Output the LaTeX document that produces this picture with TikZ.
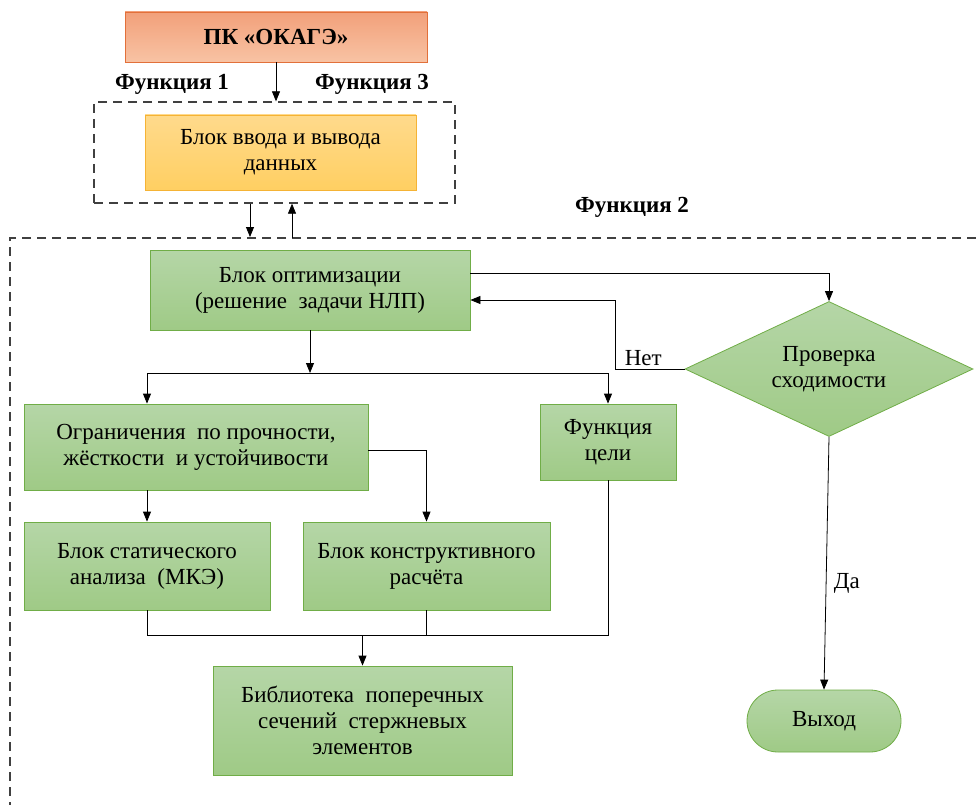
\documentclass[tikz,border=0pt]{standalone}
\usepackage{fontspec}
\setmainfont{Liberation Serif}
\usetikzlibrary{positioning, arrows.meta, shapes.geometric, shapes.misc}
\definecolor{grfill}{HTML}{B5D6A7}
\definecolor{grfillb}{HTML}{9FCA86}
\definecolor{grline}{HTML}{70AD47}
\definecolor{orfill}{HTML}{F2A07A}
\definecolor{orfillb}{HTML}{F8C3A4}
\definecolor{orline}{HTML}{E2703A}
\definecolor{yefill}{HTML}{FFDA8C}
\definecolor{yefillb}{HTML}{FFCF62}
\definecolor{yeline}{HTML}{F5B335}
\definecolor{dashgray}{HTML}{404040}

\begin{document}
\begin{tikzpicture}[x=1pt, y=-1pt, font=\fontsize{23}{26}\selectfont,
  >={Triangle[length=10pt,width=8pt]}, thick,
  blok/.style={draw=grline, top color=grfill, bottom color=grfillb,
    align=center, inner sep=2pt},
  pkbox/.style={draw=orline, top color=orfill, bottom color=orfillb,
    minimum width=302, minimum height=50},
  iobox/.style={draw=yeline, top color=yefill, bottom color=yefillb,
    align=center, minimum width=271, minimum height=75},
  dashbox/.style={draw=dashgray, line width=1.3pt, dash pattern=on 9pt off 6pt},
  flabel/.style={font=\fontsize{23}{26}\selectfont\bfseries}]
  \useasboundingbox (0,0) rectangle (976,805);

  % top part
  \node[pkbox] (pk) at (276,37) {\textbf{ПК «ОКАГЭ»}};
  \node[dashbox, minimum width=361, minimum height=101] (f13) at (274.5,152.5) {};
  \node[iobox] (io) at (280.5,152.5) {Блок ввода и вывода\\данных};
  \node[flabel] (f1) at (172,84) {Функция 1};
  \node[flabel] (f3) at (372,84) {Функция 3};
  \node[flabel] (f2) at (632,207) {Функция 2};
  \draw[dashbox] (976,238) -| (10,805);

  % blocks
  \node[blok, minimum width=320, minimum height=80] (opt) at (310,290)
    {Блок оптимизации\\(решение\ \ задачи НЛП)};
  \node[diamond, draw=grline, top color=grfill, bottom color=grfillb,
    shape aspect=2.1, inner sep=0pt, minimum width=288, minimum height=135,
    align=center] (chk) at (829,369) {Проверка\\сходимости};
  \node[blok, minimum width=344, minimum height=86] (ogr) at (196,447)
    {Ограничения\ \ по прочности,\\жёсткости\ \ и устойчивости};
  \node[blok, minimum width=136, minimum height=76] (cel) at (608,442)
    {Функция\\цели};
  \node[blok, minimum width=246, minimum height=88] (stat) at (147,566)
    {Блок статического\\анализа\ \ (МКЭ)};
  \node[blok, minimum width=247, minimum height=88] (konstr) at (426.5,566)
    {Блок конструктивного\\расчёта};
  \node[blok, minimum width=299, minimum height=109] (lib) at (362.5,720.5)
    {Библиотека\ \ поперечных\\сечений\ \ стержневых\\элементов};
  \node[blok, rounded rectangle, minimum width=158, minimum height=62] (exit)
    at (824,721) {Выход};

  \coordinate (split) at (opt.south |- 0,373);
  \coordinate (merge) at (lib.north |- 0,635);

  % connectors
  \draw[->] (pk.south) -- (pk.south |- f13.north);
  \draw[->] ([xshift=-24.5pt]f13.south) -- ([xshift=-24.5pt]f13.south |- 0,237);
  \draw[->] ([xshift=17.5pt]f13.south |- 0,238) -- ([xshift=17.5pt]f13.south);
  \draw[->] ([yshift=17pt]opt.east) -| (chk.north);
  \draw[->] (chk.west) -- node[pos=0.6, above] {Нет} ++(-69,0)
    |- ([yshift=-10pt]opt.east);
  \draw[->] (opt.south) -- (split);
  \draw (stat.north |- split) -- (cel.north |- split);
  \draw[->] (stat.north |- split) -- (stat.north |- ogr.north);
  \draw[->] (cel.north |- split) -- (cel.north);
  \draw[->] ([yshift=-3pt]ogr.east) -| (konstr.north);
  \draw[->] (stat.north |- ogr.south) -- (stat.north);
  \draw (stat.south) |- (cel.south |- merge) -- (cel.south);
  \draw (konstr.south) -- (konstr.south |- merge);
  \draw[->] (merge) -- (lib.north);
  \draw[->] (chk.south) -- node[pos=0.58, right=4pt] {Да} (exit.north);
\end{tikzpicture}
\end{document}
